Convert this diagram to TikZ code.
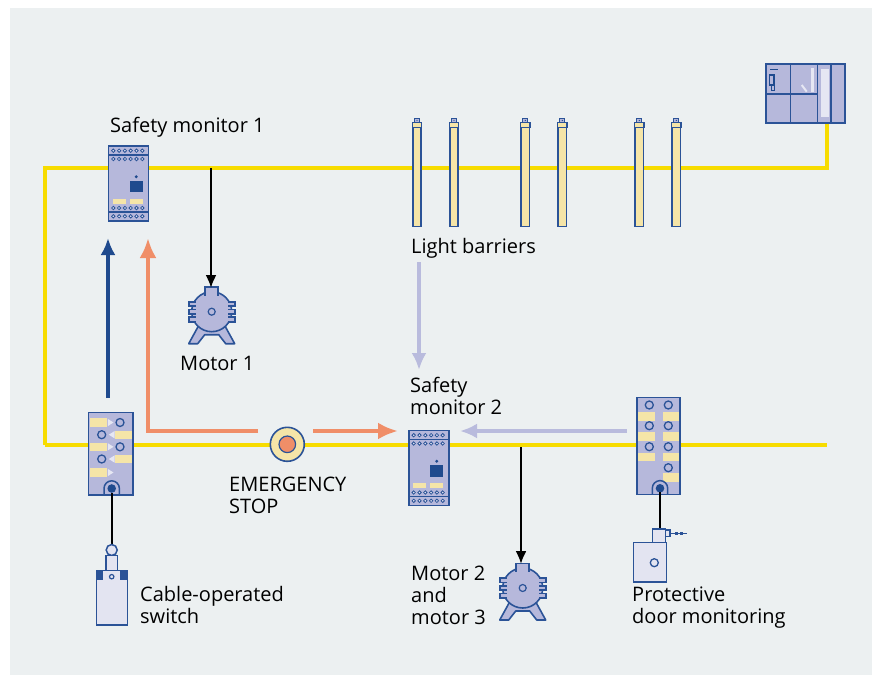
\documentclass[tikz,border=0pt]{standalone}
\usepackage{fontspec}
\setmainfont{Open Sans}
\usetikzlibrary{arrows.meta}

\definecolor{panel}{HTML}{ECF0F1}
\definecolor{bus}{HTML}{F7DC00}
\definecolor{edge}{HTML}{2B5397}
\definecolor{devfill}{HTML}{B6B8DB}
\definecolor{devlight}{HTML}{E3E4F1}
\definecolor{pad}{HTML}{F5E5A8}
\definecolor{navy}{HTML}{1F4A8E}
\definecolor{salmon}{HTML}{F08E68}
\definecolor{lilac}{HTML}{B9BBDD}
\definecolor{glow}{HTML}{E6E7F3}

\tikzset{
  dev/.style={fill=devfill, draw=edge, line width=1.6pt},
  devl/.style={fill=devlight, draw=edge, line width=1.5pt},
  lbl/.style={anchor=base west, inner sep=0pt, font=\fontsize{20}{22}\selectfont, text=black},
  buswire/.style={draw=bus, line width=4pt, line join=miter},
  wire/.style={draw=black, line width=2.2pt},
  ctrl/.style={draw=black, line width=2.2pt, -{Latex[length=13pt,width=11pt]}},
  reqarrow/.style={draw=navy, line width=3.5pt, -{Latex[length=17pt,width=15pt]}},
  estoparrow/.style={draw=salmon, line width=4pt, -{Latex[length=20pt,width=17pt]}},
  sigarrow/.style={draw=lilac, line width=4pt, -{Latex[length=17pt,width=15pt]}},
  % safety relay module, origin at top-left corner
  safetymonitor/.pic={
    \draw[dev] (0,0) rectangle (40,75);
    \draw[edge, line width=1.2pt] (0,9) -- (40,9) (0,66) -- (40,66);
    \foreach \r in {4.7,13,62,70.3}
      \foreach \c in {5,10.8,16.6,22.4,28.2,34}
        \draw[edge, fill=devlight, line width=0.8pt] (\c,\r) circle (1.7);
    \fill[navy] (21.5,34.7) rectangle (34.5,46.3);
    \fill[navy] (28,30.7) circle (1.6);
    \fill[pad] (4.5,52.7) rectangle (17.7,57.7);
    \fill[pad] (21.7,52.7) rectangle (34.5,57.7);
  },
  % electric motor, origin at the shaft
  motor/.pic={
    \draw[dev, line join=round] (-12,12) -- (-23,32) -- (-14,32) -- (-7,23) -- (7,23)
      -- (14,32) -- (23,32) -- (12,12) -- cycle;
    \draw[dev] (0,0) circle (20);
    \draw[dev] (-6.5,-24.5) rectangle (6.5,-17);
    \fill[devfill] (-5.7,-23.7) rectangle (5.7,-15);
    \foreach \yy in {-10,-2.25,5.5} {
      \draw[dev] (-23,\yy) rectangle (-17,\yy+4.5);
      \fill[devfill] (-22.2,\yy+0.8) rectangle (-14,\yy+3.7);
      \draw[dev] (17,\yy) rectangle (23,\yy+4.5);
      \fill[devfill] (14,\yy+0.8) rectangle (22.2,\yy+3.7);
    }
    \draw[edge, line width=1.2pt] (0,0) circle (3.5);
  },
  % light barrier column, origin at top centre of the column
  barrier/.pic={
    \draw[edge, fill=pad, line width=1.5pt] (-4.2,0) rectangle (4.2,99);
    \draw[edge, fill=pad, line width=1.3pt] (-4.8,-5) rectangle (4.8,0);
    \draw[edge, fill=devfill, line width=1.1pt] (-2.6,-9.4) rectangle (2.6,-5);
    \fill[edge] (0,-7.2) circle (0.7);
  },
}

\begin{document}
\begin{tikzpicture}[x=1pt,y=-1pt]
  \useasboundingbox (0,0) rectangle (882,683);
  \fill[white] (0,0) rectangle (882,683);
  \fill[panel] (10,8) rectangle (872,675);

  % ---- safety bus ----
  \coordinate (busTL) at (45,168);
  \coordinate (busBL) at (45,445);
  \coordinate (busTR) at (827,168);
  \coordinate (busBR) at (827,445);
  \coordinate (plcPort) at (827,123);
  \draw[buswire] (busBL) -- (busTL) -- (busTR) -- (plcPort);
  \draw[buswire] (busBL) -- (busBR);

  % ---- controller (top right) ----
  \draw[dev] (766,64) rectangle (845,123);
  \draw[edge, line width=1.4pt] (790.7,64) -- (790.7,123) (817.7,64) -- (817.7,123)
    (831,64) -- (831,123) (766,94) -- (817.7,94);
  \fill[glow] (820.5,69) rectangle (828.7,116.7);
  \draw[navy, line width=1.3pt] (770,69.7) -- (778.3,69.7);
  \draw[navy, line width=1.1pt] (769.8,75) rectangle (774,85);
  \draw[navy, line width=1.1pt] (771.3,85) rectangle (774.3,90.7);
  \draw[glow, line width=2pt] (801.7,85) -- (806.7,91.7);
  \draw[glow, line width=2.5pt] (812.3,68) -- (812.3,91.7);

  % ---- light barriers ----
  \foreach \bx in {417,454,525.3,562.3,639.3,676.3}
    \pic at (\bx,127.7) {barrier};

  % ---- safety monitors ----
  \pic at (108.3,146) {safetymonitor};
  \pic at (408.7,430.5) {safetymonitor};
  \coordinate (sm1in1) at (108,238);
  \coordinate (sm1in2) at (148,238);
  \coordinate (sm1out) at (211,168);
  \coordinate (sm2in1) at (398,431);
  \coordinate (sm2in2) at (460,431);
  \coordinate (sm2out) at (521,447);

  % ---- motors ----
  \pic at (211.7,311.7) {motor};
  \pic at (522.7,588) {motor};
  \coordinate (m1top) at (211,288);
  \coordinate (m2top) at (521,564);

  % ---- left I/O module ----
  \draw[dev] (88.3,412.3) rectangle (132.7,495);
  \foreach \yc/\hasc in {422.5/1,446.8/1,472.5/0} {
    \fill[pad] (89.5,\yc-4.2) rectangle (107.3,\yc+4.2);
    \fill[glow] (107.8,\yc-3.6) -- (113.5,\yc) -- (107.8,\yc+3.6) -- cycle;
    \ifnum\hasc=1 \draw[edge, line width=1.3pt] (120,\yc) circle (4); \fi
  }
  \foreach \yc in {434.7,459} {
    \draw[edge, line width=1.3pt] (101.7,\yc) circle (4);
    \fill[glow] (114.5,\yc-3.6) -- (108.8,\yc) -- (114.5,\yc+3.6) -- cycle;
    \fill[pad] (115,\yc-4.2) rectangle (131.5,\yc+4.2);
  }
  \draw[edge, line width=1.6pt] (88.3,412.3) rectangle (132.7,495);
  \draw[edge, line width=1.5pt] (104,495) -- (104,488.5) arc (180:360:7.7) -- (119.4,495);
  \fill[navy] (111.7,488.5) circle (4.3);
  \coordinate (ioLtop) at (108,398);
  \coordinate (ioLport) at (111.7,493);

  % ---- right I/O module ----
  \draw[dev] (636.7,397.3) rectangle (680,494.3);
  \foreach \ys in {412.3,432.3,452.7} {
    \fill[pad] (637.5,\ys) rectangle (655,\ys+8.3);
    \fill[pad] (663.3,\ys) rectangle (679.3,\ys+8.3);
  }
  \fill[pad] (663.3,473.3) rectangle (679.3,481.6);
  \foreach \yc in {405,425.7,446.7} {
    \draw[edge, line width=1.3pt] (649.3,\yc) circle (4);
    \draw[edge, line width=1.3pt] (668.3,\yc) circle (4);
  }
  \draw[edge, line width=1.3pt] (668.3,467.7) circle (4);
  \draw[edge, line width=1.6pt] (636.7,397.3) rectangle (680,494.3);
  \draw[edge, line width=1.5pt] (652.3,494.3) -- (652.3,488.3) arc (180:360:7.7) -- (667.7,494.3);
  \fill[navy] (660,488.3) circle (4.3);
  \coordinate (ioRleft) at (627,431);
  \coordinate (ioRport) at (660,492);

  % ---- cable-operated switch ----
  \coordinate (pullTop) at (111.7,544.5);
  \draw[wire] (ioLport) -- (pullTop);
  \draw[devl] (111.7,550) circle (5.5);
  \draw[devl] (106,555.5) rectangle (117.3,570.7);
  \draw[devl] (96.7,570.7) rectangle (127.3,625);
  \fill[edge] (96.7,570.7) rectangle (103.3,580);
  \fill[edge] (120,570.7) rectangle (127.3,580);
  \draw[edge, line width=1.2pt] (111.7,576.7) circle (2.2);

  % ---- protective door switch ----
  \coordinate (doorTop) at (660,529);
  \draw[wire] (ioRport) -- (doorTop);
  \draw[devl] (633.3,542.7) rectangle (666.7,582);
  \draw[devl] (652.3,529) rectangle (665.7,542.7);
  \draw[edge, fill=devlight, line width=1.3pt] (665.7,530) rectangle (670,536.7);
  \draw[edge, line width=1.3pt] (670,533.3) -- (686.7,533.3);
  \fill[edge] (674.5,531.6) rectangle (677.5,535);
  \fill[edge] (680,531.6) rectangle (683,535);
  \draw[edge, line width=1.3pt] (654.3,562.7) circle (4);

  % ---- emergency stop ----
  \draw[edge, fill=pad, line width=1.6pt] (287.3,444.3) circle (17);
  \draw[edge, fill=salmon, line width=1.2pt] (287.3,444.3) circle (8.3);
  \coordinate (esLeft) at (258,431);
  \coordinate (esRight) at (313,431);
  \coordinate (esCorner) at (148,431);

  % ---- signal arrows ----
  \draw[reqarrow] (ioLtop) -- (sm1in1);
  \draw[estoparrow] (esLeft) -- (esCorner) -- (sm1in2);
  \draw[estoparrow] (esRight) -- (sm2in1);
  \draw[ctrl] (sm1out) -- (m1top);
  \draw[ctrl] (sm2out) -- (m2top);
  \coordinate (lbOut) at (419,262);
  \coordinate (sm2top) at (419,370);
  \draw[sigarrow] (lbOut) -- (sm2top);
  \draw[sigarrow] (ioRleft) -- (sm2in2);

  % ---- labels ----
  \node[lbl] (lblSm1) at (110,132) {Safety monitor 1};
  \node[lbl] (lblLb) at (411,253) {Light barriers};
  \node[lbl] (lblM1) at (180,370) {Motor 1};
  \node[lbl] (lblSm2a) at (410,392) {Safety};
  \node[lbl] (lblSm2b) at (410,414) {monitor 2};
  \node[lbl] (lblEsA) at (229,491) {EMERGENCY};
  \node[lbl] (lblEsB) at (229,513) {STOP};
  \node[lbl] (lblCsA) at (140,601) {Cable-operated};
  \node[lbl] (lblCsB) at (140,623) {switch};
  \node[lbl] (lblM2a) at (411,580) {Motor 2};
  \node[lbl] (lblM2b) at (411,602) {and};
  \node[lbl] (lblM2c) at (411,624) {motor 3};
  \node[lbl] (lblDoorA) at (632,601) {Protective};
  \node[lbl] (lblDoorB) at (632,623) {door monitoring};
\end{tikzpicture}
\end{document}
